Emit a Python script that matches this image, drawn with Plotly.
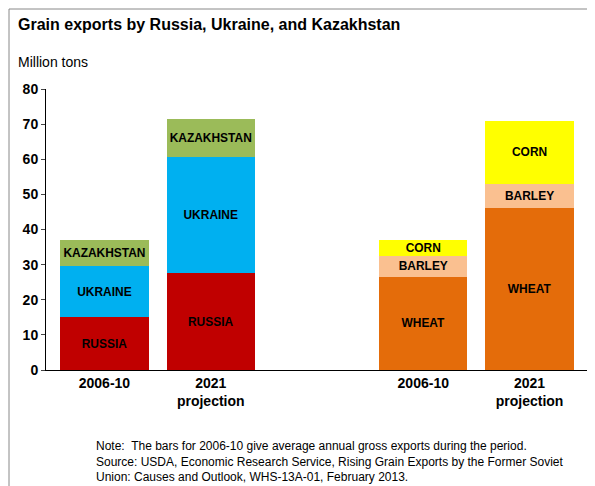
import plotly.graph_objects as go

periods = ["2006-10", "2021<br>projection"]
left_x = [0, 1]
right_x = [3, 4]

russia = [15, 27.5]
ukraine = [14.5, 33]
kazakhstan = [7.5, 11]

wheat = [26.5, 46]
barley = [6, 7]
corn = [4.5, 18]

fig = go.Figure()

def add(x, vals, name, color):
    fig.add_trace(go.Bar(
        x=x, y=vals, name=name, text=[name] * len(vals),
        textposition="inside", insidetextanchor="middle",
        textfont=dict(family="Arial", size=12, color="black"),
        texttemplate="<b>%{text}</b>",
        marker=dict(color=color, line=dict(width=0)), width=0.83,
    ))

add(left_x, russia, "RUSSIA", "#C00000")
add(left_x, ukraine, "UKRAINE", "#00B0F0")
add(left_x, kazakhstan, "KAZAKHSTAN", "#9BBB59")
add(right_x, wheat, "WHEAT", "#E46C0A")
add(right_x, barley, "BARLEY", "#FAC090")
add(right_x, corn, "CORN", "#FFFF00")

# plot area in page pixels: x 38..580, y 81..362
W, H = 542, 281
def px(x):
    return (x - 38) / W
def py(y):
    return (362 - y) / H

fig.update_layout(
    width=595, height=486, barmode="stack", showlegend=False,
    plot_bgcolor="white", paper_bgcolor="white",
    margin=dict(l=38, r=15, t=81, b=124, autoexpand=False),
    font=dict(family="Arial", color="black"),
    uniformtext=dict(mode="show", minsize=10),
)
fig.update_xaxes(
    range=[-0.55, 4.55], tickmode="array",
    tickvals=left_x + right_x,
    ticktext=["<b>" + p + "</b>" for p in periods] * 2,
    tickfont=dict(size=14), showline=True, linecolor="black",
    ticks="", showgrid=False,
)
fig.update_yaxes(
    range=[0, 80], dtick=10, tickfont=dict(size=14),
    tickprefix="<b>", ticksuffix="</b>",
    showline=True, linecolor="black", ticks="outside", ticklen=4,
    showgrid=False, zeroline=False,
)

fig.add_annotation(x=px(8), y=py(6), xref="paper", yref="paper", xanchor="left",
                   yanchor="top", showarrow=False,
                   text="<b>Grain exports by Russia, Ukraine, and Kazakhstan</b>",
                   font=dict(size=16))
fig.add_annotation(x=px(8), y=py(44), xref="paper", yref="paper", xanchor="left",
                   yanchor="top", showarrow=False, text="Million tons",
                   font=dict(size=14))
fig.add_annotation(x=px(86), y=py(478), xref="paper", yref="paper", xanchor="left",
                   yanchor="bottom", showarrow=False, align="left",
                   text="Note:  The bars for 2006-10 give average annual gross exports during the period.<br>"
                        "Source: USDA, Economic Research Service, Rising Grain Exports by the Former Soviet<br>"
                        "Union: Causes and Outlook, WHS-13A-01, February 2013.",
                   font=dict(size=12))
fig.add_shape(type="rect", xref="paper", yref="paper",
              x0=px(1), x1=px(594), y0=py(485), y1=py(1),
              line=dict(color="#888888", width=1))

fig.write_html("out.html")
